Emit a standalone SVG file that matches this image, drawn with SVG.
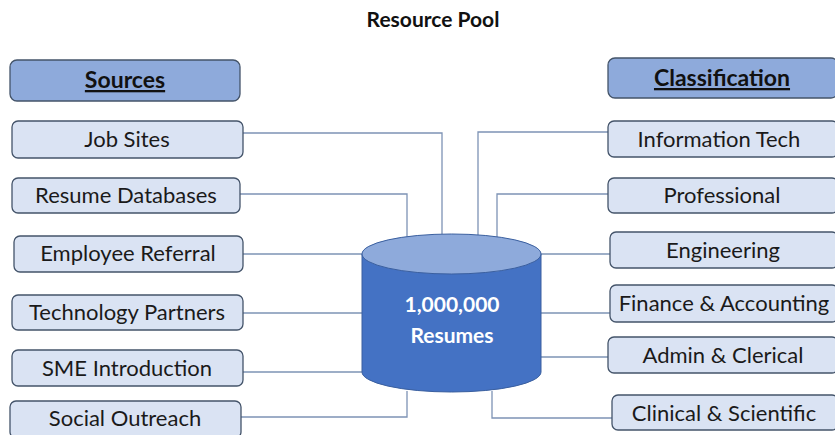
<svg xmlns="http://www.w3.org/2000/svg" width="835" height="435" viewBox="0 0 835 435">
<style>
.box{fill:#dae3f3;stroke:#44546a;stroke-width:1.3}
.hdr{fill:#8eaadb;stroke:#44546a;stroke-width:1.3}
.t{font-family:Lato,"Open Sans",sans-serif;font-size:22px;fill:#1a1a1a;text-anchor:middle}
.h{font-family:Lato,"Open Sans",sans-serif;font-size:23px;font-weight:bold;fill:#111;text-anchor:middle;text-decoration:underline}
.c{fill:none;stroke:#7d93b5;stroke-width:1.3}
</style>
<rect width="835" height="435" fill="#ffffff"/>
<text x="433" y="27" font-family="Lato,'Open Sans',sans-serif" font-size="21" font-weight="bold" text-anchor="middle" fill="#111">Resource Pool</text>
<g id="connectors">
<polyline class="c" points="243,133 442,133 442,234"/>
<polyline class="c" points="240,194 407,194 407,237"/>
<polyline class="c" points="243,254 362,254"/>
<polyline class="c" points="243,313 362,313"/>
<polyline class="c" points="243,372 362,372"/>
<polyline class="c" points="241,417 407,417 407,391"/>
<polyline class="c" points="608,132 478,132 478,235"/>
<polyline class="c" points="608,194 497,194 497,237"/>
<polyline class="c" points="541,254 610,254"/>
<polyline class="c" points="541,313 610,313"/>
<polyline class="c" points="541,357 608,357"/>
<polyline class="c" points="612,418 492,418 492,391"/>
</g>
<g id="pool">
<path d="M362,254 L362,372 A89.5,20 0 0 0 541,372 L541,254 Z" fill="#4472c4" stroke="#3a5f9f" stroke-width="1"/>
<ellipse cx="451.5" cy="254" rx="89.5" ry="20" fill="#8eaadb" stroke="#3a5f9f" stroke-width="1"/>
<text x="452" y="312" font-family="Lato,'Open Sans',sans-serif" font-size="21" font-weight="bold" fill="#ffffff" text-anchor="middle">1,000,000</text>
<text x="452" y="343" font-family="Lato,'Open Sans',sans-serif" font-size="21" font-weight="bold" fill="#ffffff" text-anchor="middle">Resumes</text>
</g>
<g id="sources"><rect class="hdr" x="10" y="60" width="230" height="41" rx="7"/><text class="h" x="125" y="88">Sources</text></g>
<g id="job-sites"><rect class="box" x="12" y="121" width="231" height="37" rx="6"/><text class="t" x="127" y="147">Job Sites</text></g>
<g id="resume-databases"><rect class="box" x="12" y="178" width="228" height="35" rx="6"/><text class="t" x="126" y="203">Resume Databases</text></g>
<g id="employee-referral"><rect class="box" x="14" y="236" width="229" height="36" rx="6"/><text class="t" x="128" y="261">Employee Referral</text></g>
<g id="technology-partners"><rect class="box" x="12" y="295" width="231" height="35" rx="6"/><text class="t" x="127" y="320">Technology Partners</text></g>
<g id="sme-introduction"><rect class="box" x="12" y="350" width="231" height="36" rx="6"/><text class="t" x="127" y="376">SME Introduction</text></g>
<g id="social-outreach"><rect class="box" x="10" y="401" width="231" height="37" rx="6"/><text class="t" x="125" y="426">Social Outreach</text></g>
<g id="classification"><rect class="hdr" x="608" y="58" width="230" height="40" rx="7"/><text class="h" x="722" y="86">Classification</text></g>
<g id="information-tech"><rect class="box" x="608" y="121" width="230" height="36" rx="6"/><text class="t" x="719" y="147">Information Tech</text></g>
<g id="professional"><rect class="box" x="608" y="178" width="230" height="35" rx="6"/><text class="t" x="722" y="203">Professional</text></g>
<g id="engineering"><rect class="box" x="610" y="232" width="228" height="36" rx="6"/><text class="t" x="723" y="258">Engineering</text></g>
<g id="finance-accounting"><rect class="box" x="610" y="285" width="228" height="37" rx="6"/><text class="t" x="724" y="311">Finance &amp; Accounting</text></g>
<g id="admin-clerical"><rect class="box" x="608" y="337" width="230" height="36" rx="6"/><text class="t" x="723" y="363">Admin &amp; Clerical</text></g>
<g id="clinical-scientific"><rect class="box" x="612" y="395" width="226" height="35" rx="6"/><text class="t" x="724" y="421">Clinical &amp; Scientific</text></g>
</svg>
